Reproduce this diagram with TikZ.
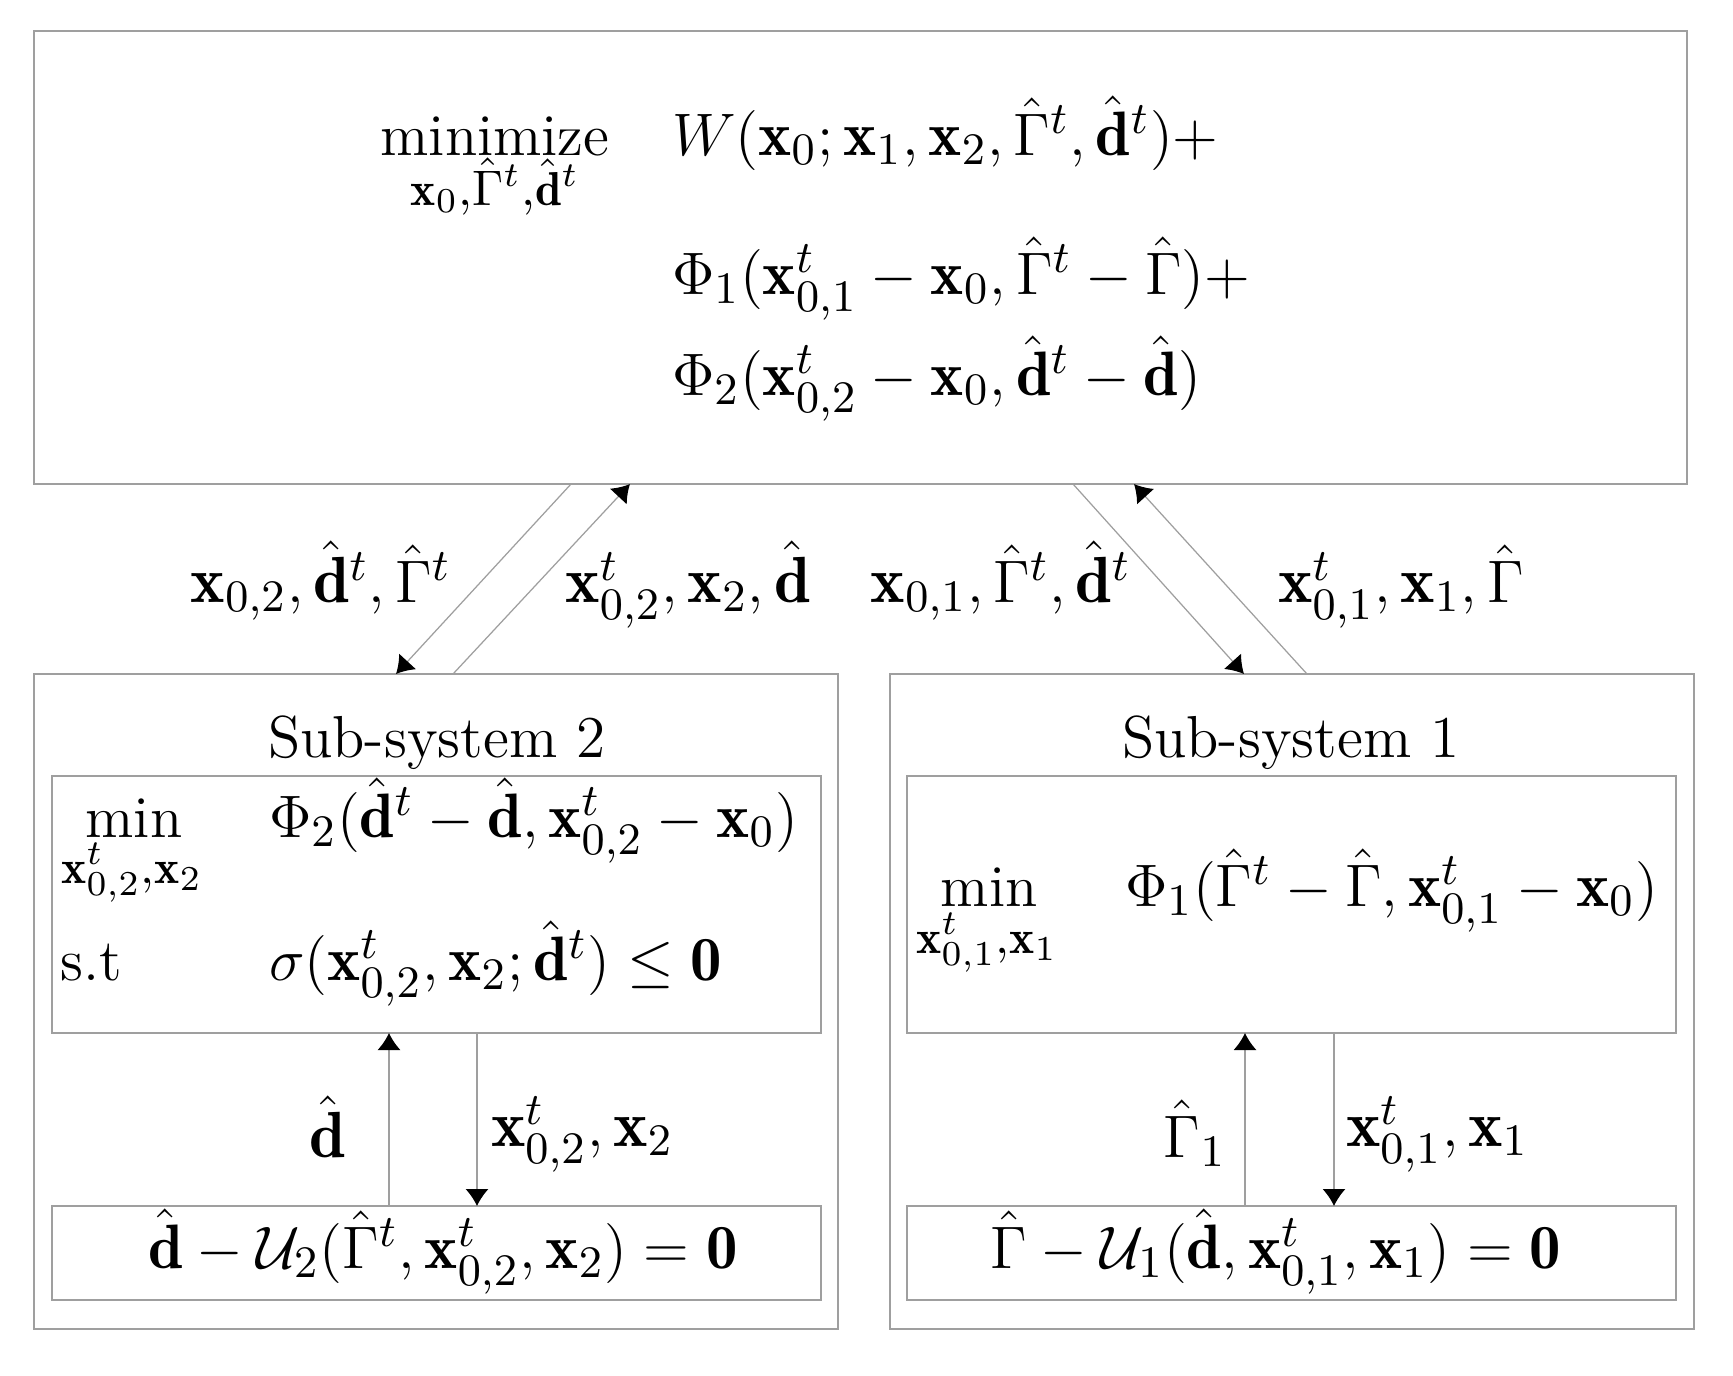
\documentclass[tikz,border=0pt]{standalone}
\usepackage{amsmath,amssymb}
\usepackage{fontspec}
\usetikzlibrary{arrows.meta}
\begin{document}
\begin{tikzpicture}[x=0.2pt,y=-0.2pt,
  box/.style={draw=gray!75, line width=0.3pt, inner sep=0pt, rectangle},
  txt/.style={font=\fontsize{11.85}{14}\selectfont, inner sep=0pt},
  mtxt/.style={font=\fontsize{12.55}{15}\selectfont, inner sep=0pt},
  ltxt/.style={font=\fontsize{13.05}{16}\selectfont, inner sep=0pt},
  subtxt/.style={font=\fontsize{13.6}{16}\selectfont, inner sep=0pt},
  arr/.style={draw=gray!75, line width=0.25pt, -{Latex[black,length=3.4pt,width=4.6pt]}}]
\useasboundingbox (0,0) rectangle (1733,1375);
% boxes
\node[box, minimum width=330.6pt, minimum height=90.6pt] (top) at (860.5,257.5) {};
\node[box, minimum width=160.8pt, minimum height=131pt] (sub2) at (436,1001.5) {};
\node[box, minimum width=153.8pt, minimum height=51.4pt] (opt2) at (436.5,904.5) {};
\node[box, minimum width=153.8pt, minimum height=18.8pt] (upd2) at (436.5,1253) {};
\node[box, minimum width=160.8pt, minimum height=131pt] (sub1) at (1292,1001.5) {};
\node[box, minimum width=153.8pt, minimum height=51.4pt] (opt1) at (1291.5,904.5) {};
\node[box, minimum width=153.8pt, minimum height=18.8pt] (upd1) at (1291.5,1253) {};
% top box text
\node[txt, anchor=base] (mn) at (495,155) {minimize};
\node[subtxt, anchor=base] (mnsub) at (495,205) {$\scriptstyle \mathbf{x}_0,\hat\Gamma^t,\hat{\mathbf{d}}^t$};
\node[mtxt, anchor=base west] (wl) at (671,155) {$W(\mathbf{x}_0;\mathbf{x}_1,\mathbf{x}_2,\hat\Gamma^t,\hat{\mathbf{d}}^t)+$};
\node[mtxt, anchor=base west] (p1) at (671,294) {$\Phi_1(\mathbf{x}^t_{0,1}-\mathbf{x}_0,\hat\Gamma^t-\hat\Gamma)+$};
\node[mtxt, anchor=base west] (p2) at (671,395) {$\Phi_2(\mathbf{x}^t_{0,2}-\mathbf{x}_0,\hat{\mathbf{d}}^t-\hat{\mathbf{d}})$};
% arrow end points
\coordinate (a1s) at (571,484); \coordinate (a1e) at (396,674);
\coordinate (a2s) at (453,674); \coordinate (a2e) at (630,484);
\coordinate (b1s) at (1073,484); \coordinate (b1e) at (1244,674);
\coordinate (b2s) at (1307,674); \coordinate (b2e) at (1134,484);
\draw[arr] (a1s) -- (a1e);
\draw[arr] (a2s) -- (a2e);
\draw[arr] (b1s) -- (b1e);
\draw[arr] (b2s) -- (b2e);
% middle labels
\node[ltxt, anchor=base] (l1) at (321,602) {$\mathbf{x}_{0,2},\hat{\mathbf{d}}^t,\hat\Gamma^t$};
\node[ltxt, anchor=base] (l2) at (688,602) {$\mathbf{x}^t_{0,2},\mathbf{x}_2,\hat{\mathbf{d}}$};
\node[ltxt, anchor=base] (l3) at (1001,602) {$\mathbf{x}_{0,1},\hat\Gamma^t,\hat{\mathbf{d}}^t$};
\node[ltxt, anchor=base] (l4) at (1401,602) {$\mathbf{x}^t_{0,1},\mathbf{x}_1,\hat\Gamma$};
% sub-system 2
\node[txt, anchor=base] (t2) at (437,757) {Sub-system 2};
\node[txt, anchor=base] (min2) at (134,837) {min};
\node[subtxt, anchor=base] (min2s) at (132,883) {$\scriptstyle \mathbf{x}^t_{0,2},\mathbf{x}_2$};
\node[mtxt, anchor=base west] (f2) at (268,837) {$\Phi_2(\hat{\mathbf{d}}^t-\hat{\mathbf{d}},\mathbf{x}^t_{0,2}-\mathbf{x}_0)$};
\node[txt, anchor=base west] (st2) at (60,980) {s.t};
\node[mtxt, anchor=base west] (c2) at (268,980) {$\sigma(\mathbf{x}^t_{0,2},\mathbf{x}_2;\hat{\mathbf{d}}^t)\le\mathbf{0}$};
\node[mtxt, anchor=base] (u2) at (443,1268) {$\hat{\mathbf{d}}-\mathcal{U}_2(\hat\Gamma^t,\mathbf{x}^t_{0,2},\mathbf{x}_2)=\mathbf{0}$};
\coordinate (v2a) at (389,1206); \coordinate (v2b) at (389,1033);
\coordinate (v2c) at (477,1033); \coordinate (v2d) at (477,1206);
\draw[arr] (v2a) -- (v2b);
\draw[arr] (v2c) -- (v2d);
\node[ltxt, anchor=base] (ld2) at (328,1157) {$\hat{\mathbf{d}}$};
\node[ltxt, anchor=base west] (lx2) at (490,1146) {$\mathbf{x}^t_{0,2},\mathbf{x}_2$};
% sub-system 1
\node[txt, anchor=base] (t1) at (1291,757) {Sub-system 1};
\node[txt, anchor=base] (min1) at (989,906) {min};
\node[subtxt, anchor=base] (min1s) at (987,953) {$\scriptstyle \mathbf{x}^t_{0,1},\mathbf{x}_1$};
\node[mtxt, anchor=base west] (f1) at (1124,906) {$\Phi_1(\hat\Gamma^t-\hat\Gamma,\mathbf{x}^t_{0,1}-\mathbf{x}_0)$};
\node[mtxt, anchor=base] (u1) at (1276,1268) {$\hat\Gamma-\mathcal{U}_1(\hat{\mathbf{d}},\mathbf{x}^t_{0,1},\mathbf{x}_1)=\mathbf{0}$};
\coordinate (v1a) at (1245,1206); \coordinate (v1b) at (1245,1033);
\coordinate (v1c) at (1334,1033); \coordinate (v1d) at (1334,1206);
\draw[arr] (v1a) -- (v1b);
\draw[arr] (v1c) -- (v1d);
\node[ltxt, anchor=base] (lg1) at (1195,1157) {$\hat\Gamma_1$};
\node[ltxt, anchor=base west] (lx1) at (1345,1146) {$\mathbf{x}^t_{0,1},\mathbf{x}_1$};
\end{tikzpicture}
\end{document}
